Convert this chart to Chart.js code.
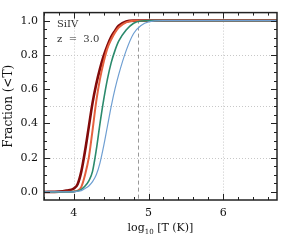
<!DOCTYPE html>
<html>
<head>
<meta charset="utf-8">
<script src="https://cdn.jsdelivr.net/npm/chart.js@4.4.0/dist/chart.umd.min.js"></script>
<style>
    html, body { margin: 0; padding: 0; background: #fff; }
    canvas { display: block; }
</style>
</head>
<body>
<canvas id="fracChart" width="291" height="242"></canvas>
<script>
// log10 T grid shared by all curves
const logT = [3.6, 3.8, 3.9, 4.0, 4.05, 4.1, 4.15, 4.2, 4.25, 4.3, 4.35, 4.4, 4.45, 4.5, 4.55, 4.6, 4.7, 4.8, 4.9, 5.0, 5.2, 5.5, 6.72];

// cumulative fraction below T, one array per curve
const fracDarkRed = [0, 0.002, 0.008, 0.02, 0.045, 0.12, 0.24, 0.38, 0.52, 0.63, 0.72, 0.795, 0.855, 0.905, 0.94, 0.97, 0.995, 1.0, 1.0, 1.0, 1.0, 1.0, 1.0];
const fracOrange  = [0, 0, 0.001, 0.003, 0.008, 0.03, 0.1, 0.2, 0.36, 0.53, 0.66, 0.76, 0.84, 0.89, 0.93, 0.96, 0.99, 1.0, 1.0, 1.0, 1.0, 1.0, 1.0];
const fracTeal    = [0, 0, 0, 0.002, 0.005, 0.015, 0.035, 0.065, 0.12, 0.245, 0.4, 0.54, 0.66, 0.755, 0.825, 0.88, 0.945, 0.985, 0.998, 1.0, 1.0, 1.0, 1.0];
const fracBlue    = [0, 0, 0, 0.001, 0.004, 0.008, 0.02, 0.035, 0.06, 0.1, 0.17, 0.27, 0.385, 0.5, 0.6, 0.685, 0.825, 0.925, 0.972, 0.993, 1.0, 1.0, 1.0];

// axis ticks and grid
const xTickLabels = [4, 5, 6];
const yTickLabels = [0.0, 0.2, 0.4, 0.6, 0.8, 1.0];
const gridX = [4, 5, 6];
const gridY = [0.2, 0.5, 0.8];
const markerT = 4.86;

const serif = "'DejaVu Serif', 'Liberation Serif', serif";

function pts(ys) {
    return logT.map((x, i) => ({ x: x, y: ys[i] }));
}

// frame, dotted grid, inward ticks, dashed marker, labels
const decorPlugin = {
    id: 'decor',
    beforeDatasetsDraw(chart) {
        const { ctx, chartArea: a, scales: { x, y } } = chart;
        ctx.save();
        ctx.strokeStyle = '#c8c8c8';
        ctx.lineWidth = 1;
        ctx.setLineDash([1, 2]);
        gridX.forEach(v => {
            const px = Math.round(x.getPixelForValue(v)) + 0.5;
            ctx.beginPath(); ctx.moveTo(px, a.top); ctx.lineTo(px, a.bottom); ctx.stroke();
        });
        gridY.forEach(v => {
            const py = Math.round(y.getPixelForValue(v)) + 0.5;
            ctx.beginPath(); ctx.moveTo(a.left, py); ctx.lineTo(a.right, py); ctx.stroke();
        });
        // dashed marker
        ctx.strokeStyle = '#999';
        ctx.setLineDash([4, 3]);
        const mx = Math.round(x.getPixelForValue(markerT)) + 0.5;
        ctx.beginPath(); ctx.moveTo(mx, a.top); ctx.lineTo(mx, a.bottom); ctx.stroke();
        ctx.restore();
    },
    afterDatasetsDraw(chart) {
        const { ctx, chartArea: a, scales: { x, y } } = chart;
        ctx.save();
        ctx.strokeStyle = '#222';
        ctx.lineWidth = 1;
        // minor and major ticks on all four sides
        for (let i = 0; i <= 15; i++) {
            const v = 3.6 + i * 0.2;
            if (v > x.max) break;
            const major = Math.abs(v - Math.round(v)) < 1e-6;
            const len = major ? 6 : 3;
            const px = Math.round(x.getPixelForValue(v)) + 0.5;
            ctx.beginPath();
            ctx.moveTo(px, a.bottom); ctx.lineTo(px, a.bottom - len);
            ctx.moveTo(px, a.top); ctx.lineTo(px, a.top + len);
            ctx.stroke();
        }
        for (let i = 0; i <= 20; i++) {
            const v = i * 0.05;
            const major = i % 4 === 0;
            const len = major ? 6 : 3;
            const py = Math.round(y.getPixelForValue(v)) + 0.5;
            ctx.beginPath();
            ctx.moveTo(a.left, py); ctx.lineTo(a.left + len, py);
            ctx.moveTo(a.right, py); ctx.lineTo(a.right - len, py);
            ctx.stroke();
        }
        ctx.lineWidth = 1.5;
        ctx.strokeRect(a.left, a.top, a.right - a.left, a.bottom - a.top);

        // in-plot labels
        ctx.fillStyle = '#333';
        ctx.font = '10px ' + serif;
        ctx.textBaseline = 'middle';
        ctx.fillText('SiIV', a.left + 13, 24);
        ctx.fillText('z  =  3.0', a.left + 13, 39);

        // x axis title with subscript
        ctx.fillStyle = '#111';
        const t1 = 'log', t3 = ' [T (K)]';
        ctx.font = '7px ' + serif;
        const wSub = ctx.measureText('10').width;
        ctx.font = '11px ' + serif;
        const w1 = ctx.measureText(t1).width, w3 = ctx.measureText(t3).width;
        const sx = (a.left + a.right) / 2 - (w1 + wSub + w3) / 2;
        const ty = 228;
        ctx.fillText(t1, sx, ty);
        ctx.font = '7px ' + serif;
        ctx.fillText('10', sx + w1, ty + 4);
        ctx.font = '11px ' + serif;
        ctx.fillText(t3, sx + w1 + wSub, ty);

        // y axis title
        ctx.font = '12px ' + serif;
        ctx.translate(9, (a.top + a.bottom) / 2);
        ctx.rotate(-Math.PI / 2);
        ctx.textAlign = 'center';
        ctx.fillText('Fraction (<T)', 0, 0);
        ctx.restore();
    }
};

new Chart(document.getElementById('fracChart'), {
    type: 'line',
    data: {
        datasets: [
            { data: pts(fracBlue), borderColor: '#6f9fd2', borderWidth: 1.2 },
            { data: pts(fracTeal), borderColor: '#2b8a6c', borderWidth: 1.6 },
            { data: pts(fracOrange), borderColor: '#e5613f', borderWidth: 2 },
            { data: pts(fracDarkRed), borderColor: '#820a0a', borderWidth: 2.6 }
        ]
    },
    options: {
        responsive: false,
        animation: false,
        devicePixelRatio: 1,
        layout: { padding: { left: 0, right: 14, top: 12, bottom: 0 } },
        elements: {
            point: { radius: 0 },
            line: { cubicInterpolationMode: 'monotone', fill: false }
        },
        plugins: {
            legend: { display: false },
            tooltip: { enabled: false }
        },
        scales: {
            x: {
                type: 'linear',
                min: 3.6,
                max: 6.72,
                afterBuildTicks: s => { s.ticks = xTickLabels.map(v => ({ value: v })); },
                afterFit: s => { s.height = 42; },
                grid: { display: false, drawTicks: false },
                border: { display: false },
                ticks: {
                    color: '#111',
                    padding: 7,
                    font: { family: serif, size: 11 },
                    callback: v => String(v)
                }
            },
            y: {
                type: 'linear',
                min: -0.047,
                max: 1.047,
                afterBuildTicks: s => { s.ticks = yTickLabels.map(v => ({ value: v })); },
                afterFit: s => { s.width = 44; },
                grid: { display: false, drawTicks: false },
                border: { display: false },
                ticks: {
                    color: '#111',
                    padding: 6,
                    font: { family: serif, size: 11 },
                    callback: v => v.toFixed(1)
                }
            }
        }
    },
    plugins: [decorPlugin]
});
</script>
</body>
</html>
